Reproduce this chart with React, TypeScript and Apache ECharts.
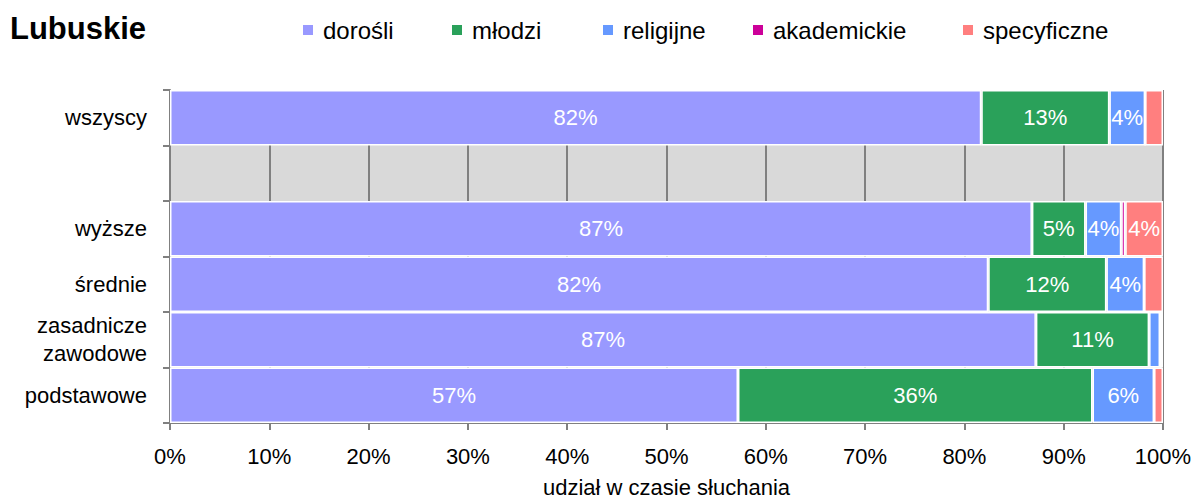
import React, { useEffect, useRef } from "react";
import * as echarts from "echarts";

const categories = ["wszyscy", "", "wyższe", "średnie", "zasadnicze\nzawodowe", "podstawowe"];
const seriesNames = ["dorośli", "młodzi", "religijne", "akademickie", "specyficzne"];
const dorosli = [81.7, null, 86.8, 82.4, 87.2, 57.2];
const mlodzi = [12.9, null, 5.4, 11.9, 11.4, 35.7];
const religijne = [3.6, null, 3.6, 3.8, 1.1, 6.2];
const akademickie = [0, null, 0.4, 0, 0, 0];
const specyficzne = [1.8, null, 3.8, 1.9, 0.3, 0.9];
const xTicks = [0, 10, 20, 30, 40, 50, 60, 70, 80, 90, 100];
const colors = ["#9999FF", "#2AA15A", "#6699FF", "#CC0099", "#FF7F7F"];
const legendLeft = [301, 450, 601, 751, 961];

const FF = "'Liberation Sans', Arial, sans-serif";

export default function App() {
  const ref = useRef<HTMLDivElement>(null);
  useEffect(() => {
    if (!ref.current) return;
    const chart = echarts.init(ref.current, null, { renderer: "svg" });
    const data = [dorosli, mlodzi, religijne, akademickie, specyficzne];
    chart.setOption({
      animation: false,
      title: {
        text: "Lubuskie",
        left: 5,
        top: 8,
        textStyle: { fontFamily: FF, fontSize: 31, fontWeight: "bold", color: "#000" },
      },
      legend: seriesNames.map((n, i) => ({
        data: [n],
        left: legendLeft[i],
        top: 18,
        padding: 0,
        icon: "rect",
        itemWidth: 12,
        itemHeight: 12,
        textStyle: { fontFamily: FF, fontSize: 24, color: "#000", padding: [8, 0, 0, 4] },
        selectedMode: false,
      })),
      grid: {
        left: 170,
        right: 33,
        top: 90,
        bottom: 79,
        show: true,
        backgroundColor: "#D9D9D9",
        borderWidth: 0,
        containLabel: false,
        outerBoundsMode: "none",
      },
      xAxis: {
        type: "value",
        min: 0,
        max: 100,
        interval: 10,
        name: "udział w czasie słuchania",
        nameLocation: "middle",
        nameGap: 53,
        nameTextStyle: { fontFamily: FF, fontSize: 22, color: "#000" },
        axisLine: { show: true, lineStyle: { color: "#808080", width: 2 } },
        axisTick: { show: true, length: 7, lineStyle: { color: "#808080", width: 2 } },
        axisLabel: {
          fontFamily: FF,
          fontSize: 22,
          color: "#000",
          margin: 22,
          formatter: (v: number) => (xTicks.includes(v) ? v + "%" : ""),
        },
        splitLine: { show: true, lineStyle: { color: "#808080", width: 2 } },
      },
      yAxis: {
        type: "category",
        data: categories,
        inverse: true,
        axisLine: { show: true, lineStyle: { color: "#808080", width: 2 } },
        axisTick: { show: true, length: 7, lineStyle: { color: "#808080", width: 2 } },
        axisLabel: {
          fontFamily: FF,
          fontSize: 22,
          color: "#000",
          margin: 23,
          lineHeight: 28,
        },
      },
      series: seriesNames.map((n, i) => ({
        name: n,
        type: "bar",
        stack: "total",
        barCategoryGap: "0%",
        data: data[i],
        itemStyle: { color: colors[i], borderColor: "#fff", borderWidth: 1.5 },
        label: {
          show: true,
          position: "inside",
          color: "#fff",
          fontFamily: FF,
          fontSize: 22,
          formatter: (p: any) => (p.value != null && p.value >= 3 ? Math.round(p.value) + "%" : ""),
        },
      })),
    });
    return () => chart.dispose();
  }, []);
  return (
    <div
      ref={ref}
      style={{ position: "absolute", left: 0, top: 0, width: 1196, height: 502 }}
    />
  );
}
